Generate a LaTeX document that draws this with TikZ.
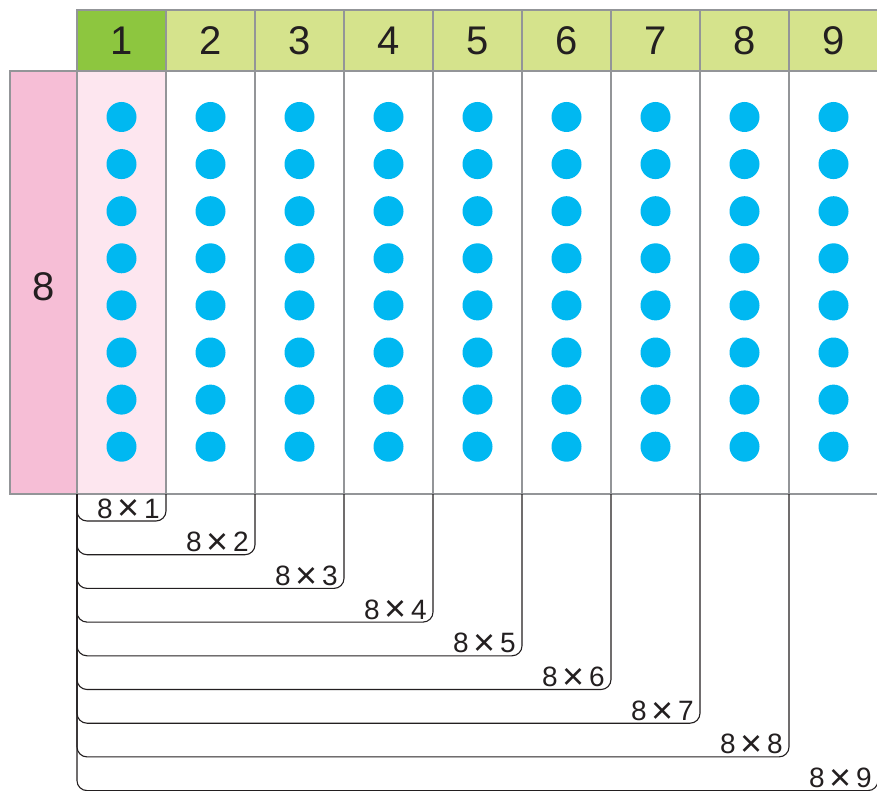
\documentclass[tikz,border=0pt]{standalone}
\usepackage{fontspec}
\setmainfont{Liberation Sans}
\usetikzlibrary{calc}

\definecolor{gridgray}{HTML}{939598}
\definecolor{headdark}{HTML}{8DC63F}
\definecolor{headlight}{HTML}{D5E38C}
\definecolor{pinkdark}{HTML}{F6BED6}
\definecolor{pinklight}{HTML}{FDE6EF}
\definecolor{dotblue}{HTML}{00B8F1}
\definecolor{inkgray}{HTML}{231F20}

\newcommand{\bigtimes}{\hspace{0.17em}\raisebox{-0.1em}{\scalebox{1.35}{×}}\hspace{0.17em}}

\begin{document}
\begin{tikzpicture}[x=1pt,y=-1pt,
  cell/.style={draw=gridgray,line width=2.4pt,inner sep=0pt,outer sep=0pt},
  headcell/.style={cell,fill=headlight,minimum width=89pt,minimum height=61pt,
    font=\fontsize{40}{40}\selectfont,text=inkgray},
  colcell/.style={cell,fill=white,minimum width=89pt,minimum height=423pt},
  dot/.style={fill=dotblue},
  bracket/.style={draw=inkgray,line width=1.1pt,rounded corners=10pt},
  prodlabel/.style={font=\fontsize{28}{28}\selectfont,text=inkgray,inner sep=0pt,anchor=base east}]

  \useasboundingbox (0,0) rectangle (877,791);
  \clip (0,0) rectangle (877,791);

  % left factor
  \node[cell,fill=pinkdark,minimum width=67pt,minimum height=423pt] (rowhead) at (43.5,282.5) {};
  \node[font=\fontsize{40}{40}\selectfont,text=inkgray] (rowlabel) at (43.5,287) {8};

  % columns and headers
  \foreach \k in {1,...,9}{
    \node[colcell] (col\k) at ({77+89*(\k-1)+44.5},282.5) {};
    \node[headcell] (head\k) at ({77+89*(\k-1)+44.5},40.5) {\k};
  }
  \node[colcell,fill=pinklight] at (col1) {};
  \node[headcell,fill=headdark] at (head1) {1};

  % dots
  \foreach \k in {1,...,9}
    \foreach \r in {0,...,7}
      \fill[dot] ($(col\k.north)+(0,46+47.1*\r)$) circle (15pt);

  % brackets
  \foreach \k in {1,...,9}{
    \pgfmathsetmacro{\d}{27+33.7*(\k-1)}
    \draw[bracket] (col1.south west) |- ([yshift=-\d pt]col\k.south east) -- (col\k.south east);
    \node[prodlabel] (prod\k) at ([xshift=-6pt,yshift={-\d pt+3pt}]col\k.south east) {8\bigtimes\k};
  }

\end{tikzpicture}
\end{document}
